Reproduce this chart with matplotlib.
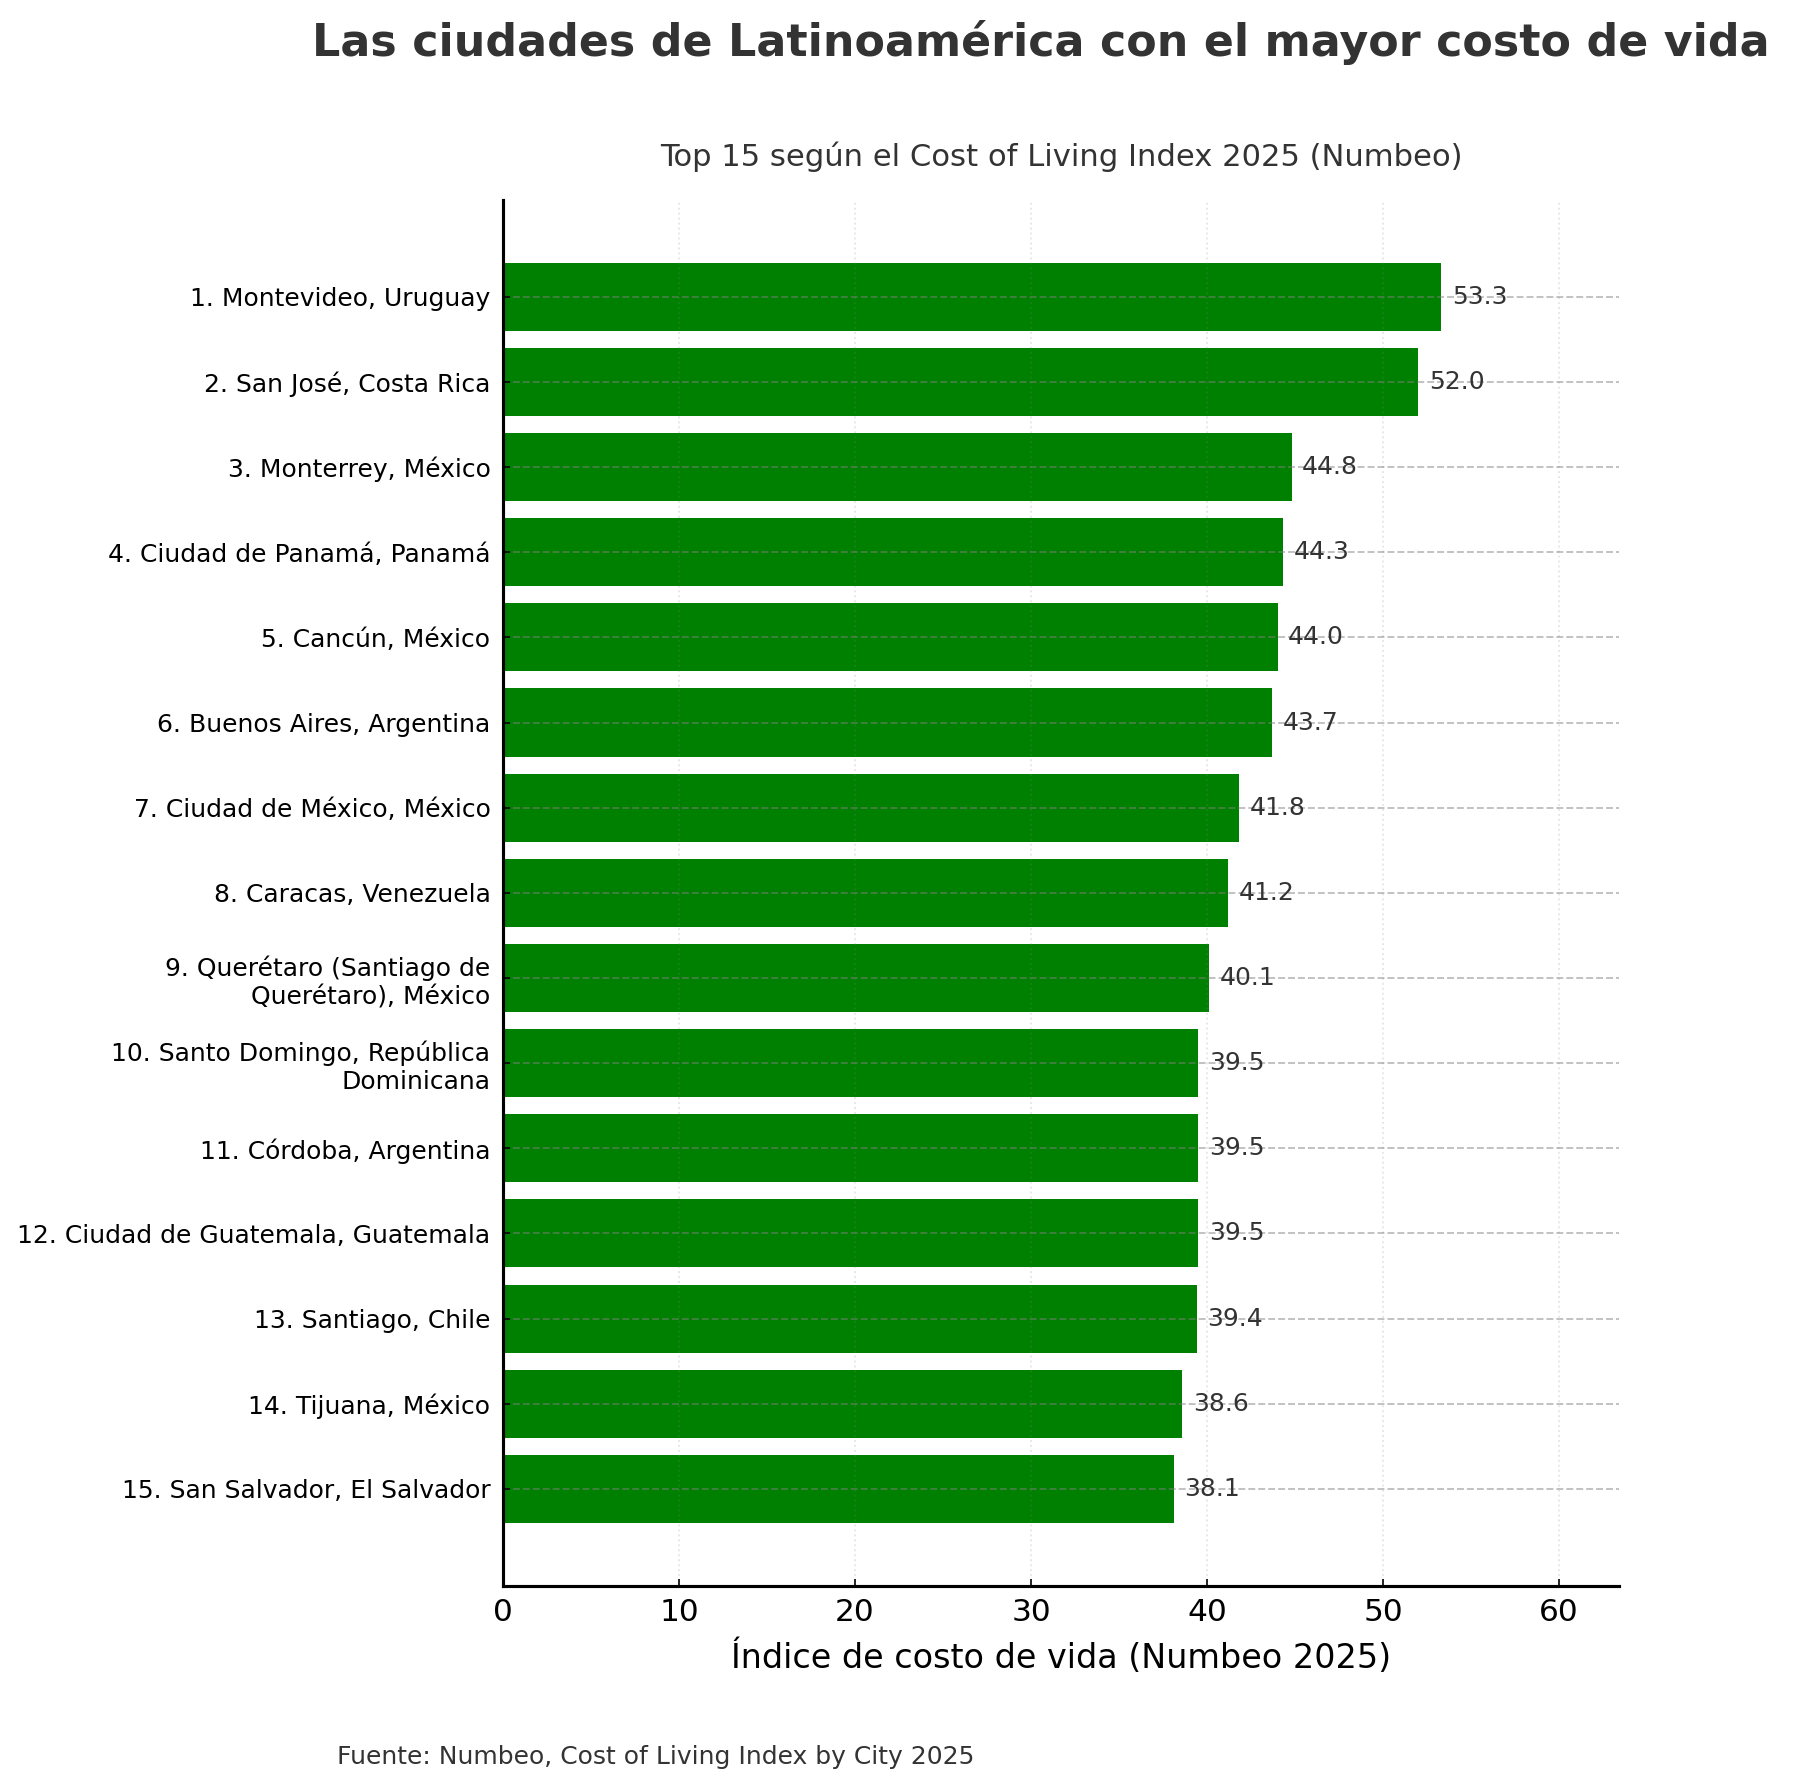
import matplotlib
matplotlib.use("Agg")
import matplotlib.pyplot as plt

CITIES = [
    "1. Montevideo, Uruguay",
    "2. San José, Costa Rica",
    "3. Monterrey, México",
    "4. Ciudad de Panamá, Panamá",
    "5. Cancún, México",
    "6. Buenos Aires, Argentina",
    "7. Ciudad de México, México",
    "8. Caracas, Venezuela",
    "9. Querétaro (Santiago de\nQuerétaro), México",
    "10. Santo Domingo, República\nDominicana",
    "11. Córdoba, Argentina",
    "12. Ciudad de Guatemala, Guatemala",
    "13. Santiago, Chile",
    "14. Tijuana, México",
    "15. San Salvador, El Salvador",
]
INDEX = [53.3, 52.0, 44.8, 44.3, 44.0, 43.7, 41.8, 41.2, 40.1, 39.5, 39.5, 39.5, 39.4, 38.6, 38.1]

GREEN = "#008000"
DARK = "#333333"

fig = plt.figure(figsize=(1793 / 150, 1791 / 150), dpi=150)
ax = fig.add_axes([0.2805, 0.1145, 0.6225, 0.774])

ypos = list(range(len(CITIES)))
bars = ax.barh(ypos, INDEX, color=GREEN, height=0.8)
ax.set_yticks(ypos)
ax.set_yticklabels(CITIES, fontsize=12)
ax.invert_yaxis()
ax.set_xlim(0, 63.4)

for b, v in zip(bars, INDEX):
    ax.text(v + 0.6, b.get_y() + b.get_height() / 2, f"{v:.1f}",
            va="center", ha="left", fontsize=12, color=DARK)

ax.grid(axis="y", linestyle="--", color="gray", alpha=0.5, lw=0.9)
ax.grid(axis="x", linestyle=":", color="gray", alpha=0.2, lw=0.9)
ax.spines["top"].set_visible(False)
ax.spines["right"].set_visible(False)
ax.spines["left"].set_linewidth(1.5)
ax.spines["bottom"].set_linewidth(1.5)
ax.tick_params(axis="x", direction="in", labelsize=15, pad=6)
ax.tick_params(axis="y", direction="in", pad=6)
ax.set_xlabel("Índice de costo de vida (Numbeo 2025)", fontsize=16, labelpad=6)

fig.text(0.5805, 0.9765, "Las ciudades de Latinoamérica con el mayor costo de vida",
         ha="center", va="center", fontsize=21.3, fontweight="bold", color=DARK)
fig.text(0.592, 0.9125, "Top 15 según el Cost of Living Index 2025 (Numbeo)",
         ha="center", va="center", fontsize=14.7, color=DARK)
fig.text(0.188, 0.019, "Fuente: Numbeo, Cost of Living Index by City 2025",
         ha="left", va="center", fontsize=12, color=DARK)

fig.savefig("out.png", dpi=150)
